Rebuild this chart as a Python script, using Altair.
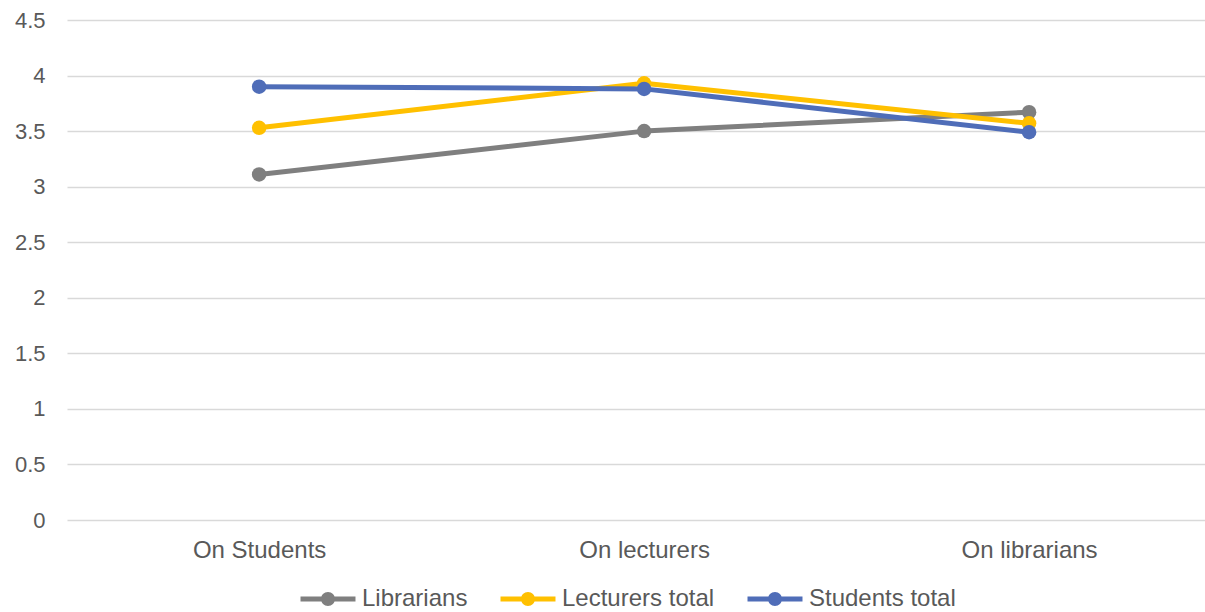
import altair as alt
import pandas as pd

categories = ["On Students", "On lecturers", "On librarians"]
series_names = ["Librarians", "Lecturers total", "Students total"]
librarians = [3.11, 3.50, 3.67]
lecturers_total = [3.53, 3.93, 3.57]
students_total = [3.90, 3.88, 3.49]
series_colors = ["#7F7F7F", "#FFC000", "#4F6DB8"]
y_ticks = [0, 0.5, 1, 1.5, 2, 2.5, 3, 3.5, 4, 4.5]

rows = []
for name, vals in zip(series_names, [librarians, lecturers_total, students_total]):
    for c, v in zip(categories, vals):
        rows.append({"category": c, "series": name, "value": v})
df = pd.DataFrame(rows)

FONT = "Liberation Sans"
TXT = "#595959"

legend_path = ("M-2,-0.18L2,-0.18L2,0.18L-2,0.18Z "
               "M0.51,0A0.51,0.51,0,1,1,-0.51,0A0.51,0.51,0,1,1,0.51,0Z")

x = alt.X("category:N", sort=categories,
          scale=alt.Scale(type="point", padding=0.478, align=0.522),
          axis=alt.Axis(title=None, labelAngle=0, domain=False, ticks=False,
                        grid=False, labelPadding=18, labelFontSize=24,
                        labelColor=TXT, labelFont=FONT))
y = alt.Y("value:Q", scale=alt.Scale(domain=[0, 4.5], nice=False),
          axis=alt.Axis(title=None, values=y_ticks, format="~g", domain=False,
                        ticks=False, labelPadding=22, labelFontSize=22,
                        labelColor=TXT, labelFont=FONT, gridColor="#D9D9D9",
                        gridWidth=1.3))

color = alt.Color("series:N", scale=alt.Scale(domain=series_names, range=series_colors),
                  sort=series_names,
                  legend=alt.Legend(orient="none", legendX=247, legendY=565,
                                    direction="horizontal", title=None,
                                    symbolType=legend_path, symbolSize=756,
                                    symbolStrokeWidth=0, symbolOpacity=1,
                                    labelFontSize=24, labelFont=FONT,
                                    labelColor=TXT, labelOffset=20,
                                    columnPadding=32, padding=0))

base = alt.Chart(df).encode(x=x, y=y, color=color)
lines = base.mark_line(strokeWidth=5, strokeCap="round", strokeJoin="round")
points = base.mark_point(filled=True, size=210, opacity=1)

chart = alt.layer(lines, points).properties(
    width=1138, height=500,
    autosize=alt.AutoSizeParams(type="none"),
    padding={"left": 67, "top": 20, "right": 0, "bottom": 92},
    background="white",
).configure_view(stroke=None)

chart.save("out.html", embed_options={"renderer": "svg", "actions": False})
